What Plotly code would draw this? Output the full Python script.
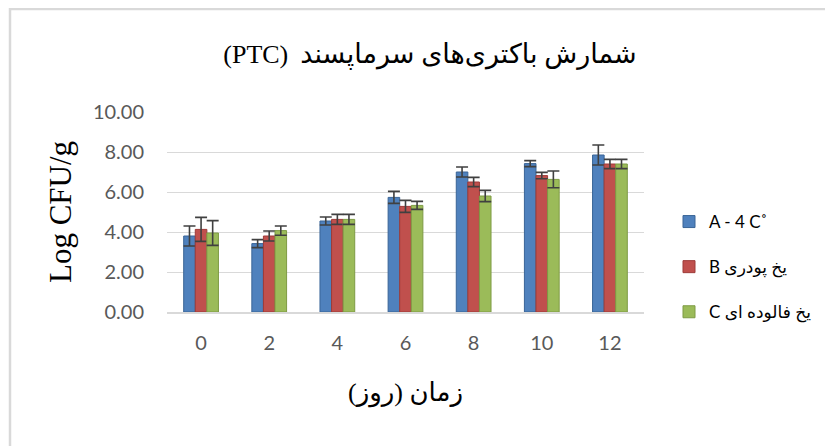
import plotly.graph_objects as go

days = ["0", "2", "4", "6", "8", "10", "12"]
series_names = ["A - 4 C˚", "B یخ پودری", "C یخ فالوده ای"]
vals_a = [3.80, 3.42, 4.55, 5.73, 7.00, 7.42, 7.85]
err_a = [0.50, 0.20, 0.20, 0.30, 0.25, 0.15, 0.50]
vals_b = [4.13, 3.80, 4.63, 5.28, 6.50, 6.82, 7.40]
err_b = [0.60, 0.25, 0.25, 0.30, 0.23, 0.16, 0.23]
vals_c = [3.95, 4.07, 4.63, 5.33, 5.80, 6.63, 7.40]
err_c = [0.62, 0.23, 0.25, 0.20, 0.28, 0.42, 0.23]
y_ticks = [0, 2, 4, 6, 8, 10]
y_tick_labels = ["0.00", "2.00", "4.00", "6.00", "8.00", "10.00"]

colors = ["#4F81BD", "#C0504D", "#9BBB59"]
edges = ["#3A6597", "#9E3B38", "#7E9B44"]

fig = go.Figure()
for i, (name, v, e) in enumerate(zip(series_names, [vals_a, vals_b, vals_c], [err_a, err_b, err_c])):
    fig.add_trace(go.Bar(
        x=days, y=v, name=name, legendgroup=str(i),
        marker=dict(color=colors[i], line=dict(color=edges[i], width=1)),
        error_y=dict(type="data", array=e, visible=True, color="#404040", thickness=1.6, width=6),
    ))

# page body has an 8px margin; work in screen coordinates and convert
OFF = 8
W, H = 833, 446
L, T = 167 - OFF, 112 - OFF
pw, ph = 477, 200
R = W - L - pw
B = H - T - ph

def px_x(x):
    return (x - OFF - L) / pw

def px_y(y):
    return (T + ph - (y - OFF)) / ph

fig.update_layout(
    width=W, height=H,
    margin=dict(l=L, r=R, t=T, b=B, autoexpand=False),
    paper_bgcolor="white", plot_bgcolor="white",
    barmode="group", bargap=0.49, bargroupgap=0,
    title=dict(
        text="<span style='font-size:26px'>(PTC)</span>  <span style='font-size:27px'>شمارش باکتری‌های سرماپسند</span>",
        x=(430 - OFF) / W, xanchor="center", y=1 - (55 - OFF) / H, yanchor="middle",
        font=dict(family="Liberation Serif, DejaVu Sans, serif", size=24, color="#000000"),
    ),
    font=dict(family="Lato, Liberation Sans, sans-serif", color="#595959"),
    legend=dict(
        x=px_x(669), y=px_y(204), xanchor="left", yanchor="top",
        traceorder="grouped", tracegroupgap=20,
        font=dict(family="Lato, DejaVu Sans, sans-serif", size=17, color="#000000"),
        bgcolor="rgba(0,0,0,0)",
    ),
    xaxis=dict(
        type="category", showgrid=False, showline=True, linecolor="#D9D9D9", linewidth=1.5,
        ticks="", tickfont=dict(size=20, color="#595959"), ticklabelstandoff=12,
        title=dict(text="زمان (روز)", font=dict(family="Liberation Serif, DejaVu Sans, serif", size=26, color="#000000"), standoff=30),
    ),
    yaxis=dict(
        range=[0, 10], tickvals=y_ticks, ticktext=y_tick_labels,
        showgrid=True, gridcolor="#D9D9D9", gridwidth=1.3, zeroline=False,
        showline=False, ticks="", tickfont=dict(size=20, color="#595959"), ticklabelstandoff=22,
        title=dict(text="Log CFU/g", font=dict(family="Liberation Serif, serif", size=31, color="#000000"), standoff=12),
    ),
    shapes=[dict(
        type="rect", xref="paper", yref="paper",
        x0=px_x(10), x1=px_x(850), y0=px_y(470), y1=px_y(9),
        line=dict(color="#D9D9D9", width=2.5), fillcolor="rgba(0,0,0,0)", layer="below",
    )],
)

fig.write_html("out.html")
